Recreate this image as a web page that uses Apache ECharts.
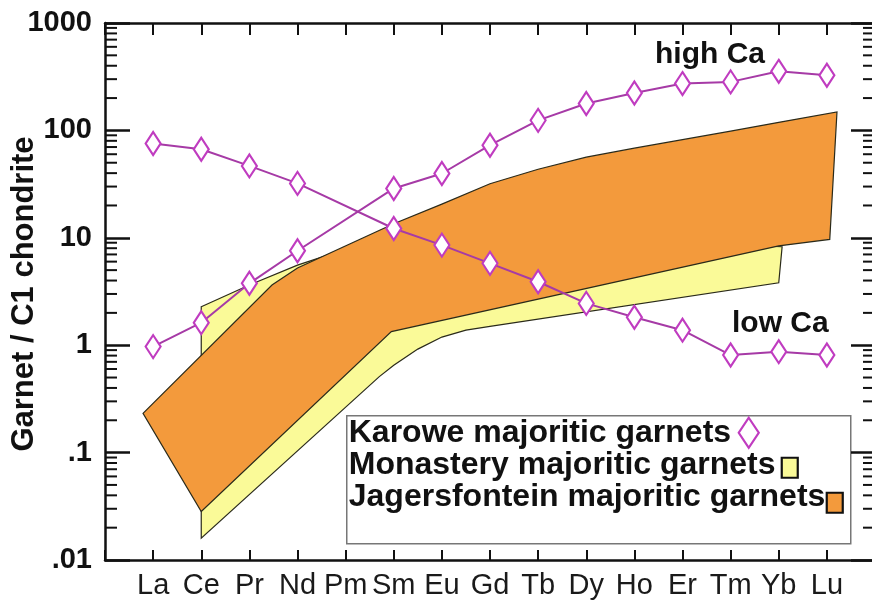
<!DOCTYPE html>
<html><head><meta charset="utf-8">
<script src="https://cdn.jsdelivr.net/npm/echarts@6/dist/echarts.min.js"></script>
<style>html,body{margin:0;padding:0;background:#fff}#c{width:872px;height:606px}</style>
</head><body><div id="c"></div>
<script>
// ---- data ----
const elements = ['La','Ce','Pr','Nd','Pm','Sm','Eu','Gd','Tb','Dy','Ho','Er','Tm','Yb','Lu'];
const karoweHighCa = [0.97, 1.62, 3.77, 7.57, null, 28.8, 39.7, 72.8, 124, 178, 223, 273, 283, 355, 326];
const karoweLowCa  = [75.5, 66.8, 46.7, 32.1, null, 12.2, 8.55, 5.78, 3.90, 2.45, 1.82, 1.38, 0.81, 0.87, 0.81];
// Monastery field (yellow): upper and lower boundaries (x = element position, 1 = La)
const monasteryUpperX = [2, 3, 4, 6, 14.07];
const monasteryUpper  = [2.28, 3.63, 5.57, 11, 8.25];
const monasteryLowerX = [2, 5.7, 6, 6.5, 7, 7.5, 8, 14];
const monasteryLower  = [0.016, 0.51, 0.65, 0.92, 1.19, 1.38, 1.5, 3.81];
// Jagersfontein field (orange)
const jagersUpperX = [0.79, 3.47, 4, 6, 7, 8, 9, 10, 11, 12, 13, 14, 15.21];
const jagersUpper  = [0.232, 3.63, 5.23, 13.5, 20.6, 31.9, 43.5, 56.3, 68.3, 81.9, 98.3, 119, 148.6];
const jagersLowerX = [0.79, 2, 5.95, 14, 15.06];
const jagersLower  = [0.232, 0.0283, 1.34, 8.4, 9.67];
// axis ticks
const yTickLabels = ['.01', '.1', '1', '10', '100', '1000'];
const minorTickValues = [];
[0.01, 0.1, 1, 10, 100].forEach(d => { for (let m = 2; m <= 9; m++) minorTickValues.push(+(d * m).toPrecision(3)); });

// ---- build ----
function toPairs(xs, ys) {
  const out = [];
  xs.forEach((x, i) => { if (ys[i] != null) out.push([x, ys[i]]); });
  return out;
}
const posOf = elements.map((e, i) => i + 1);
function polygonPoints(ux, uy, lx, ly) {
  return toPairs(ux, uy).concat(toPairs(lx, ly).reverse());
}
const monasteryPoly = polygonPoints(monasteryUpperX, monasteryUpper, monasteryLowerX, monasteryLower);
const jagersPoly = polygonPoints(jagersUpperX, jagersUpper, jagersLowerX, jagersLower);

function polySeries(name, pts, fill) {
  return {
    type: 'custom', name: name, z: 2,
    data: pts,
    encode: { x: 0, y: 1 },
    renderItem: function (params, api) {
      if (params.dataIndex !== 0) return null;
      return {
        type: 'polygon',
        shape: { points: pts.map(p => api.coord(p)) },
        style: { fill: fill, stroke: '#2a2a1a', lineWidth: 1.2 }
      };
    }
  };
}

const X_MIN = 0, X_MAX = 16;
const FONT = 'Liberation Sans, Arial, sans-serif';
const karoweStyle = {
  type: 'line', name: 'Karowe majoritic garnets', z: 5,
  symbol: 'diamond', symbolSize: [15, 23], connectNulls: true,
  lineStyle: { color: '#a63aa6', width: 2 },
  itemStyle: { color: '#ffffff', borderColor: '#c03cc0', borderWidth: 2.2 },
  emphasis: { disabled: true }, animation: false
};

const chart = echarts.init(document.getElementById('c'), null, { renderer: 'canvas' });
const axisLineStyle = { color: '#111', width: 2.5 };
const option = {
  animation: false,
  backgroundColor: '#ffffff',
  grid: { left: 105, top: 23, width: 770, height: 537, containLabel: false, outerBoundsMode: 'none' },
  xAxis: [{
    type: 'value', min: X_MIN, max: X_MAX, interval: 1, position: 'bottom',
    axisLine: { show: true, onZero: false, lineStyle: axisLineStyle },
    axisTick: { show: true, inside: true, length: 10, lineStyle: { color: '#111', width: 2 } },
    axisLabel: {
      margin: 11, color: '#1a1a1a', fontSize: 29, fontFamily: FONT,
      formatter: v => (v >= 1 && v <= elements.length) ? elements[v - 1] : ''
    },
    splitLine: { show: false }
  }, {
    type: 'value', min: X_MIN, max: X_MAX, interval: 1, position: 'top',
    axisLine: { show: true, onZero: false, lineStyle: axisLineStyle },
    axisTick: { show: true, inside: true, length: 12, lineStyle: { color: '#111', width: 2 } },
    axisLabel: { show: false }, splitLine: { show: false }
  }],
  yAxis: [{
    type: 'log', logBase: 10, min: 0.01, max: 1000, position: 'left',
    axisLine: { show: true, onZero: false, lineStyle: axisLineStyle },
    axisTick: { show: true, inside: true, length: 25, lineStyle: { color: '#111', width: 2.5 } },
    axisLabel: {
      margin: 13, color: '#111', fontSize: 29, fontWeight: 'bold', fontFamily: FONT,
      formatter: v => yTickLabels[Math.round(Math.log10(v)) + 2]
    },
    splitLine: { show: false }
  }, {
    type: 'log', logBase: 10, min: 0.01, max: 1000, position: 'right',
    axisLine: { show: true, onZero: false, lineStyle: axisLineStyle },
    axisTick: { show: true, inside: true, length: 24, lineStyle: { color: '#111', width: 2.5 } },
    axisLabel: { show: false }, splitLine: { show: false }
  }],
  graphic: [
    { type: 'text', x: 24, y: 294, rotation: Math.PI / 2, z: 10,
      style: { text: 'Garnet / C1 chondrite', fontSize: 31, fontWeight: 'bold', fill: '#111', fontFamily: FONT, align: 'center', verticalAlign: 'middle' } },
    { type: 'text', left: 655, top: 40, z: 10, style: { text: 'high Ca', fontSize: 30, fontWeight: 'bold', fill: '#111', fontFamily: FONT } },
    { type: 'text', left: 732, top: 309, z: 10, style: { text: 'low Ca', fontSize: 30, fontWeight: 'bold', fill: '#111', fontFamily: FONT } },
    { type: 'group', left: 346, top: 415, z: 20, children: [
      { type: 'rect', shape: { x: 0, y: 0, width: 504, height: 128 }, style: { fill: '#fff', stroke: '#777', lineWidth: 1.5 } },
      { type: 'text', x: 2, y: 17, style: { text: 'Karowe majoritic garnets', fontSize: 32, fontWeight: 'bold', fill: '#111', verticalAlign: 'middle', fontFamily: FONT } },
      { type: 'text', x: 2, y: 49, style: { text: 'Monastery majoritic garnets', fontSize: 32, fontWeight: 'bold', fill: '#111', verticalAlign: 'middle', fontFamily: FONT } },
      { type: 'text', x: 2, y: 81, style: { text: 'Jagersfontein majoritic garnets', fontSize: 32, fontWeight: 'bold', fill: '#111', verticalAlign: 'middle', fontFamily: FONT } },
      { type: 'polygon', shape: { points: [[402, 2], [412, 17], [402, 32], [392, 17]] }, style: { fill: '#fff', stroke: '#c03cc0', lineWidth: 2.2 } },
      { type: 'rect', shape: { x: 435, y: 42, width: 16, height: 20 }, style: { fill: '#fafa98', stroke: '#111', lineWidth: 2.2 } },
      { type: 'rect', shape: { x: 480, y: 77, width: 16, height: 20 }, style: { fill: '#f39a3c', stroke: '#111', lineWidth: 2.2 } }
    ]}
  ],
  series: [
    polySeries('Monastery majoritic garnets', monasteryPoly, '#fafa98'),
    polySeries('Jagersfontein majoritic garnets', jagersPoly, '#f39a3c'),
    Object.assign({}, karoweStyle, { data: toPairs(posOf, karoweHighCa) }),
    Object.assign({}, karoweStyle, { data: toPairs(posOf, karoweLowCa) }),
    {
      type: 'custom', name: 'minor ticks', z: 6, silent: true,
      data: minorTickValues.map(v => [X_MIN, v]),
      encode: { x: 0, y: 1 },
      renderItem: function (params, api) {
        const v = api.value(1);
        const pl = api.coord([X_MIN, v]);
        const pr = api.coord([X_MAX, v]);
        return { type: 'group', children: [
          { type: 'line', shape: { x1: pl[0], y1: pl[1], x2: pl[0] + 12, y2: pl[1] }, style: { stroke: '#111', lineWidth: 2 } },
          { type: 'line', shape: { x1: pr[0], y1: pr[1], x2: pr[0] - 12, y2: pr[1] }, style: { stroke: '#111', lineWidth: 2 } }
        ]};
      }
    }
  ]
};
chart.setOption(option);
</script>
</body></html>
